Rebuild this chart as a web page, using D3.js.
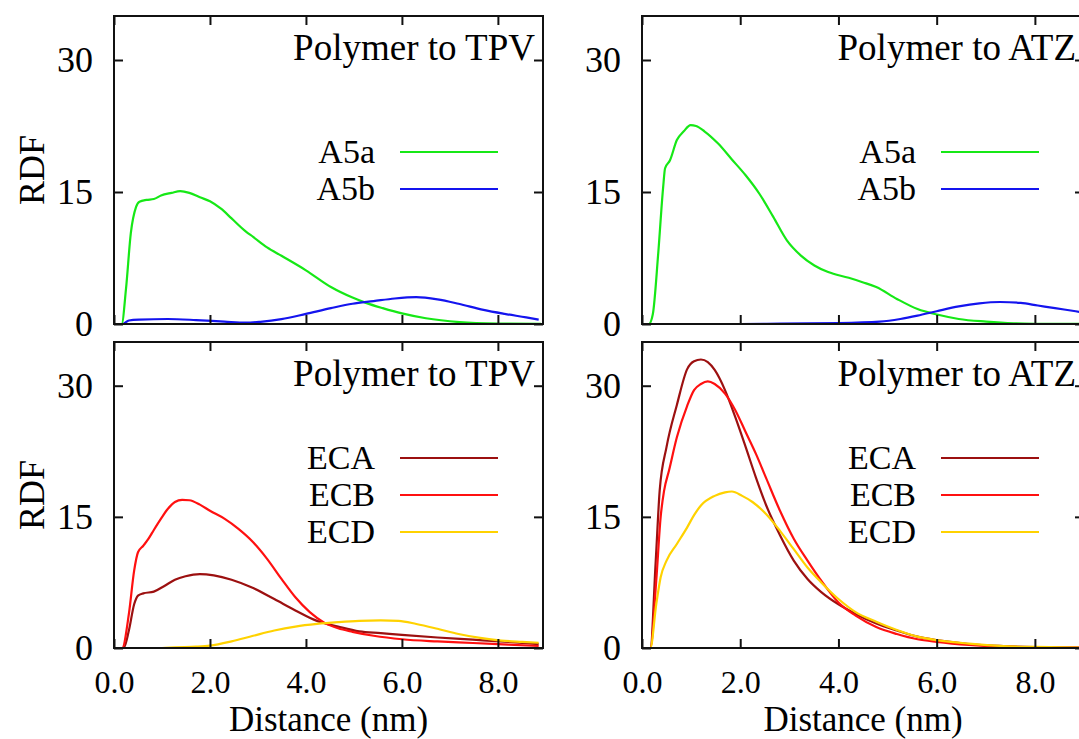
<!DOCTYPE html>
<html>
<head>
<meta charset="utf-8">
<script src="https://cdn.jsdelivr.net/npm/d3@7"></script>
<style>
  body { margin: 0; background: #fff; }
  svg { display: block; }
  text { font-family: "Liberation Serif", "Times New Roman", serif; fill: #000; }
  .axis path.domain { display: none; }
  .axis line { stroke: #111; stroke-width: 2; }
</style>
</head>
<body>
<div id="chart"></div>
<script>
// tick values shared by every panel
var xTicks = [0, 2, 4, 6, 8];
var yTicks = [0, 15, 30];

// series names and colours
var topNames = ['A5a', 'A5b'];
var topColors = ['#16e816', '#1414ee'];
var bottomNames = ['ECA', 'ECB', 'ECD'];
var bottomColors = ['#9c1010', '#ff1010', '#ffd200'];

// RDF curves, [distance nm, rdf]
var tpvA5a = [[0,0],[0.16,0],[0.25,4],[0.35,10.3],[0.46,13.3],[0.53,13.9],[0.68,14.1],[0.83,14.2],[0.98,14.6],[1.2,14.9],[1.38,15.1],[1.57,14.9],[1.79,14.4],[2.0,13.95],[2.23,13.1],[2.45,12.0],[2.75,10.5],[2.9,9.9],[3.19,8.7],[3.49,7.75],[4.0,6.1],[4.52,4.2],[4.97,3.0],[5.25,2.4],[5.6,1.8],[6.0,1.2],[6.5,0.65],[7.2,0.22],[8.0,0.05],[8.9,0.01]];
var tpvA5b = [[0,0],[0.18,0],[0.31,0.4],[0.53,0.5],[1.12,0.57],[1.71,0.45],[2.3,0.27],[2.75,0.15],[3.05,0.25],[3.49,0.55],[4.0,1.15],[4.52,1.8],[4.97,2.3],[5.41,2.6],[5.85,2.9],[6.3,3.05],[6.74,2.8],[7.18,2.3],[7.7,1.6],[8.14,1.15],[8.59,0.75],[8.85,0.5]];
var atzA5a = [[0,0],[0.14,0],[0.22,1.1],[0.33,8],[0.43,15.5],[0.47,17.7],[0.57,18.6],[0.71,20.9],[0.85,21.9],[0.99,22.6],[1.1,22.5],[1.27,21.9],[1.55,20.5],[1.83,18.7],[2.11,16.9],[2.39,14.8],[2.67,12.2],[2.95,9.5],[3.23,7.8],[3.51,6.65],[3.79,5.9],[4.21,5.25],[4.49,4.75],[4.77,4.2],[5.19,2.85],[5.61,1.7],[6.03,1.05],[6.45,0.57],[7.01,0.27],[7.57,0.08],[8.0,0.03],[9.0,0]];
var atzA5b = [[0,0],[2.0,0],[2.81,0.04],[4.0,0.1],[4.84,0.27],[5.26,0.57],[5.61,0.95],[6.0,1.45],[6.45,2.0],[6.87,2.35],[7.29,2.5],[7.71,2.4],[8.06,2.1],[8.41,1.8],[8.83,1.45],[9.0,1.3]];

var tpvECA = [[0,0],[0.2,0],[0.31,2.0],[0.42,5.0],[0.5,6.0],[0.61,6.25],[0.83,6.45],[1.05,7.1],[1.27,7.8],[1.49,8.2],[1.79,8.45],[2.08,8.3],[2.45,7.8],[2.9,6.85],[3.34,5.6],[3.78,4.3],[4.23,3.1],[4.67,2.45],[5.11,1.9],[5.56,1.7],[6.0,1.5],[6.74,1.2],[7.48,0.95],[8.22,0.7],[8.85,0.45]];
var tpvECB = [[0,0],[0.17,0],[0.31,3.9],[0.42,8.85],[0.5,10.95],[0.61,11.7],[0.72,12.5],[0.83,13.5],[0.98,14.8],[1.12,15.9],[1.27,16.7],[1.42,16.95],[1.57,16.9],[1.79,16.4],[2.0,15.7],[2.3,14.8],[2.6,13.6],[2.9,12.1],[3.19,10.2],[3.49,7.9],[3.78,5.8],[4.08,4.1],[4.38,2.9],[4.67,2.25],[4.97,1.85],[5.41,1.4],[6.0,1.0],[6.74,0.75],[7.48,0.57],[8.22,0.38],[8.85,0.23]];
var tpvECD = [[0,0],[1.0,0],[1.27,0.08],[1.71,0.15],[2.0,0.27],[2.45,0.76],[2.9,1.4],[3.34,2.0],[3.78,2.45],[4.23,2.75],[4.67,2.95],[5.11,3.1],[5.56,3.15],[5.93,3.1],[6.3,2.75],[6.74,2.2],[7.18,1.6],[7.63,1.15],[8.07,0.85],[8.51,0.7],[8.85,0.6]];
var atzECA = [[0,0],[0.17,0],[0.28,10],[0.36,18],[0.5,23.0],[0.71,27.8],[0.92,31.9],[1.06,32.8],[1.2,33.0],[1.34,32.7],[1.48,31.8],[1.69,29.5],[1.9,26.4],[2.11,23.0],[2.32,19.5],[2.53,16.3],[2.81,12.9],[3.09,10.0],[3.37,7.9],[3.65,6.4],[4.0,5.0],[4.35,3.9],[4.77,2.8],[5.19,2.0],[5.61,1.3],[6.0,0.9],[6.66,0.45],[7.36,0.22],[8.0,0.1],[9.0,0.03]];
var atzECB = [[0,0],[0.17,0],[0.29,7.7],[0.38,15],[0.45,18],[0.55,20.3],[0.71,24.1],[0.92,27.7],[1.06,29.5],[1.2,30.2],[1.34,30.5],[1.48,30.2],[1.69,29.1],[1.9,27.2],[2.11,24.7],[2.32,22.2],[2.53,19.4],[2.81,15.7],[3.09,12.5],[3.37,10.0],[3.65,7.7],[4.0,5.2],[4.35,3.7],[4.77,2.4],[5.19,1.6],[5.61,1.0],[6.0,0.7],[6.66,0.35],[7.36,0.15],[8.0,0.07],[9.0,0.03]];
var atzECD = [[0,0],[0.17,0],[0.29,5.0],[0.38,8.1],[0.5,10.0],[0.71,11.9],[0.92,13.8],[1.06,15.2],[1.2,16.3],[1.48,17.4],[1.69,17.8],[1.83,17.9],[2.04,17.4],[2.25,16.7],[2.53,15.3],[2.81,13.4],[3.09,11.3],[3.37,9.2],[3.65,7.5],[4.0,5.6],[4.35,4.1],[4.77,3.0],[5.19,2.05],[5.61,1.3],[6.0,0.9],[6.66,0.5],[7.36,0.22],[8.0,0.12],[9.0,0.05]];

var titles = ['Polymer to TPV', 'Polymer to ATZ', 'Polymer to TPV', 'Polymer to ATZ'];

// panel data, built from the arrays above
var panelData = [
  { title: titles[0], names: topNames, colors: topColors, series: [tpvA5a, tpvA5b] },
  { title: titles[1], names: topNames, colors: topColors, series: [atzA5a, atzA5b] },
  { title: titles[2], names: bottomNames, colors: bottomColors, series: [tpvECA, tpvECB, tpvECD] },
  { title: titles[3], names: bottomNames, colors: bottomColors, series: [atzECA, atzECB, atzECD] }
];

// panel placement (pixels)
var layout = [
  { x0: 114, x1: 543, y0: 16, y1: 324, xMax: 8.94, legendTop: 136, yLabel: true, xLabels: false },
  { x0: 642, x1: 1084, y0: 16, y1: 324, xMax: 9.0, legendTop: 136, yLabel: false, xLabels: false },
  { x0: 114, x1: 543, y0: 342, y1: 648, xMax: 8.94, legendTop: 116, yLabel: true, xLabels: true },
  { x0: 642, x1: 1084, y0: 342, y1: 648, xMax: 9.0, legendTop: 116, yLabel: false, xLabels: true }
];

var width = 1079, height = 739, tick = 9;

var svg = d3.select('#chart').append('svg')
  .attr('width', width)
  .attr('height', height);

svg.append('rect').attr('width', width).attr('height', height).attr('fill', '#fff');

panelData.forEach(function(p, i) {
  var L = layout[i];

  var x = d3.scaleLinear().domain([0, L.xMax]).range([L.x0, L.x1]);
  var y = d3.scaleLinear().domain([0, 35]).range([L.y1, L.y0]);

  var g = svg.append('g');

  // clip curves to the frame
  g.append('clipPath').attr('id', 'clip' + i)
    .append('rect')
    .attr('x', L.x0).attr('y', L.y0)
    .attr('width', L.x1 - L.x0).attr('height', L.y1 - L.y0);

  var line = d3.line()
    .x(function(d) { return x(d[0]); })
    .y(function(d) { return y(d[1]); })
    .curve(d3.curveMonotoneX);

  var curves = g.append('g').attr('clip-path', 'url(#clip' + i + ')');
  p.series.forEach(function(s, k) {
    curves.append('path')
      .datum(s)
      .attr('d', line)
      .attr('fill', 'none')
      .attr('stroke', p.colors[k])
      .attr('stroke-width', 2.2);
  });

  // inward ticks on all four sides
  g.append('g').attr('class', 'axis')
    .attr('transform', 'translate(0,' + L.y1 + ')')
    .call(d3.axisBottom(x).tickValues(xTicks).tickSize(-tick).tickSizeOuter(0)
      .tickPadding(22).tickFormat(L.xLabels ? d3.format('.1f') : function() { return ''; }))
    .selectAll('text').style('font-size', '32px');

  g.append('g').attr('class', 'axis')
    .attr('transform', 'translate(0,' + L.y0 + ')')
    .call(d3.axisTop(x).tickValues(xTicks).tickSize(-tick).tickSizeOuter(0).tickFormat(''));

  g.append('g').attr('class', 'axis')
    .attr('transform', 'translate(' + L.x0 + ',0)')
    .call(d3.axisLeft(y).tickValues(yTicks).tickSize(-tick).tickSizeOuter(0).tickPadding(21))
    .selectAll('text').style('font-size', '36px');

  g.append('g').attr('class', 'axis')
    .attr('transform', 'translate(' + L.x1 + ',0)')
    .call(d3.axisRight(y).tickValues(yTicks).tickSize(-tick).tickSizeOuter(0).tickFormat(''));

  // frame
  g.append('rect')
    .attr('x', L.x0).attr('y', L.y0)
    .attr('width', L.x1 - L.x0).attr('height', L.y1 - L.y0)
    .attr('fill', 'none').attr('stroke', '#111').attr('stroke-width', 2);

  // panel title
  g.append('text')
    .attr('x', L.x1 - 8)
    .attr('y', y(30))
    .attr('text-anchor', 'end')
    .style('font-size', '37px')
    .text(p.title);

  // legend
  p.names.forEach(function(name, k) {
    var ly = L.y0 + L.legendTop + k * 37;
    g.append('text')
      .attr('x', L.x1 - 168)
      .attr('y', ly)
      .attr('dy', '0.33em')
      .attr('text-anchor', 'end')
      .style('font-size', '34px')
      .text(name);
    g.append('line')
      .attr('x1', L.x1 - 143).attr('x2', L.x1 - 45)
      .attr('y1', ly).attr('y2', ly)
      .attr('stroke', p.colors[k]).attr('stroke-width', 2.2);
  });

  if (L.yLabel) {
    g.append('text')
      .attr('transform', 'translate(44,' + (L.y0 + L.y1) / 2 + ') rotate(-90)')
      .attr('text-anchor', 'middle')
      .style('font-size', '36px')
      .text('RDF');
  }

  if (L.xLabels) {
    g.append('text')
      .attr('x', (L.x0 + L.x1) / 2)
      .attr('y', 731)
      .attr('text-anchor', 'middle')
      .style('font-size', '35px')
      .text('Distance (nm)');
  }
});
</script>
</body>
</html>
